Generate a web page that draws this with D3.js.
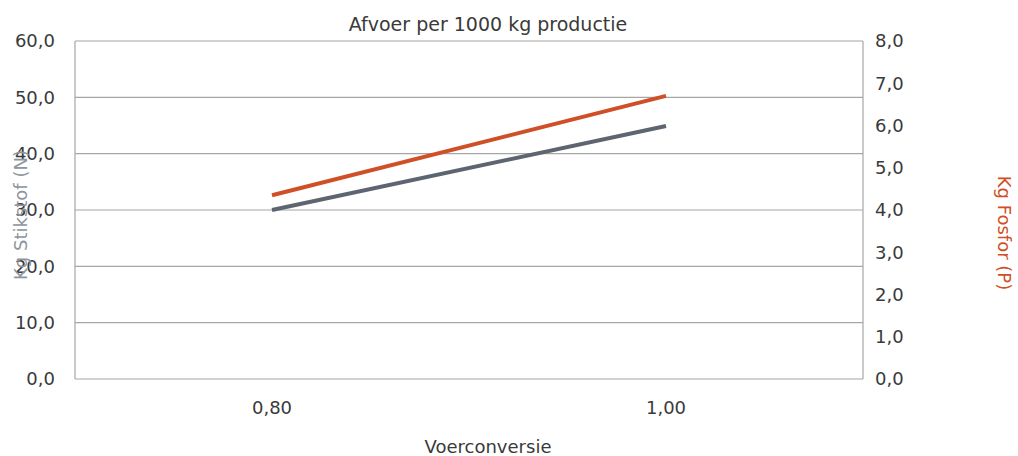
<!DOCTYPE html>
<html lang="nl">
<head>
<meta charset="utf-8">
<script src="https://cdn.jsdelivr.net/npm/d3@7"></script>
<style>
    body { margin: 0; background: #fff; }
    text { font-family: "DejaVu Sans", sans-serif; }
</style>
</head>
<body>
<div id="chart"></div>
<script>
    // data
    var categories = ["0,80", "1,00"];
    var stikstof = [30.0, 44.9];
    var fosfor = [4.35, 6.7];
    var leftTicks = [0, 10, 20, 30, 40, 50, 60];
    var rightTicks = [0, 1, 2, 3, 4, 5, 6, 7, 8];

    var width = 1018, height = 456;
    var margin = {top: 41, right: 155, bottom: 77, left: 75};
    var w = width - margin.left - margin.right;
    var h = height - margin.top - margin.bottom;

    var colN = "#5d6570", colP = "#cf4f26";
    var fmt = function (d) { return d3.format(".1f")(d).replace(".", ","); };

    var svg = d3.select("#chart").append("svg")
        .attr("width", width)
        .attr("height", height);

    var g = svg.append("g")
        .attr("transform", "translate(" + margin.left + "," + margin.top + ")");

    var x = d3.scaleBand().domain(categories).range([0, w]);
    var yL = d3.scaleLinear().domain([0, 60]).range([h, 0]);
    var yR = d3.scaleLinear().domain([0, 8]).range([h, 0]);

    // gridlines
    g.selectAll(".grid")
        .data(leftTicks)
        .enter().append("line")
        .attr("x1", 0).attr("x2", w)
        .attr("y1", function (d) { return yL(d); })
        .attr("y2", function (d) { return yL(d); })
        .style("stroke", "#a6a6a6")
        .style("stroke-width", 1.2);

    g.append("line").attr("x1", 0).attr("x2", 0).attr("y1", 0).attr("y2", h)
        .style("stroke", "#a6a6a6").style("stroke-width", 1.2);
    g.append("line").attr("x1", w).attr("x2", w).attr("y1", 0).attr("y2", h)
        .style("stroke", "#a6a6a6").style("stroke-width", 1.2);

    // left axis labels
    g.selectAll(".lt")
        .data(leftTicks)
        .enter().append("text")
        .attr("x", -20)
        .attr("y", function (d) { return yL(d); })
        .attr("dy", "0.35em")
        .attr("text-anchor", "end")
        .style("font-size", "18px")
        .style("fill", "#3a3a3a")
        .text(fmt);

    // right axis labels
    g.selectAll(".rt")
        .data(rightTicks)
        .enter().append("text")
        .attr("x", w + 12)
        .attr("y", function (d) { return yR(d); })
        .attr("dy", "0.35em")
        .attr("text-anchor", "start")
        .style("font-size", "18px")
        .style("fill", "#3a3a3a")
        .text(fmt);

    // x labels
    g.selectAll(".xt")
        .data(categories)
        .enter().append("text")
        .attr("x", function (d) { return x(d) + x.bandwidth() / 2; })
        .attr("y", h + 35)
        .attr("text-anchor", "middle")
        .style("font-size", "18px")
        .style("fill", "#3a3a3a")
        .text(function (d) { return d; });

    // lines
    var lineN = d3.line()
        .x(function (d, i) { return x(categories[i]) + x.bandwidth() / 2; })
        .y(function (d) { return yL(d); });
    var lineP = d3.line()
        .x(function (d, i) { return x(categories[i]) + x.bandwidth() / 2; })
        .y(function (d) { return yR(d); });

    g.append("path").datum(stikstof).attr("d", lineN)
        .style("fill", "none").style("stroke", colN).style("stroke-width", 4);
    g.append("path").datum(fosfor).attr("d", lineP)
        .style("fill", "none").style("stroke", colP).style("stroke-width", 4);

    // titles
    svg.append("text")
        .attr("x", 488).attr("y", 31)
        .attr("text-anchor", "middle")
        .style("font-size", "19px")
        .style("fill", "#3a3a3a")
        .text("Afvoer per 1000 kg productie");

    svg.append("text")
        .attr("transform", "translate(27," + (margin.top + h / 2 + 5) + ") rotate(-90)")
        .attr("text-anchor", "middle")
        .style("font-size", "18px")
        .style("fill", "#8d95a0")
        .text("Kg Stikstof (N)");

    svg.append("text")
        .attr("transform", "translate(998,233) rotate(90)")
        .attr("text-anchor", "middle")
        .style("font-size", "18px")
        .style("fill", colP)
        .text("Kg Fosfor (P)");

    svg.append("text")
        .attr("x", 488).attr("y", 453)
        .attr("text-anchor", "middle")
        .style("font-size", "18px")
        .style("fill", "#3a3a3a")
        .text("Voerconversie");
</script>
</body>
</html>
